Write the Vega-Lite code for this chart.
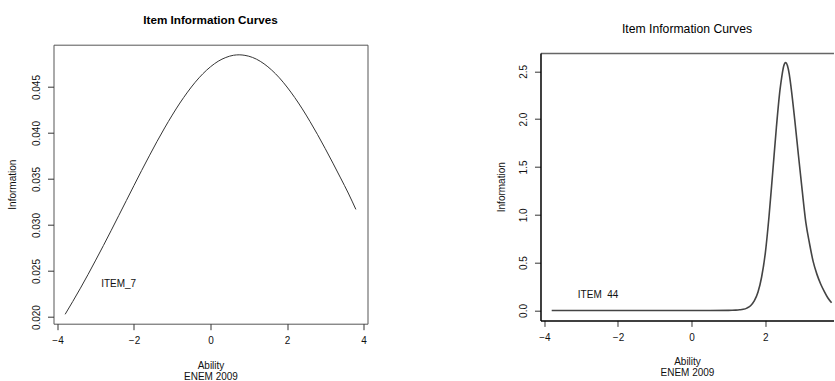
{
  "$schema": "https://vega.github.io/schema/vega-lite/v6.json",
  "padding": {"left": 6.5, "top": 13.7, "right": 0, "bottom": 0},
  "background": "white",
  "spacing": 128,
  "config": {
    "font": "Liberation Sans",
    "axis": {
      "labelFont": "Liberation Sans", "labelFontSize": 10, "labelColor": "#111",
      "titleFont": "Liberation Sans", "titleFontSize": 10, "titleFontWeight": "normal", "titleColor": "#111",
      "tickColor": "#333", "tickSize": 6, "labelFlush": false, "labelOverlap": false, "grid": false
    },
    "title": {"font": "Liberation Sans", "fontSize": 11.7, "fontWeight": "bold", "color": "#000"}
  },
  "datasets": {
    "left": [
      {"ability": -3.8, "info": 0.02030}, {"ability": -3.6, "info": 0.02170}, {"ability": -3.4, "info": 0.02314},
      {"ability": -3.2, "info": 0.02464}, {"ability": -3.0, "info": 0.02619}, {"ability": -2.8, "info": 0.02777},
      {"ability": -2.6, "info": 0.02938}, {"ability": -2.4, "info": 0.03102}, {"ability": -2.2, "info": 0.03266},
      {"ability": -2.0, "info": 0.03430}, {"ability": -1.8, "info": 0.03593}, {"ability": -1.6, "info": 0.03752},
      {"ability": -1.4, "info": 0.03907}, {"ability": -1.2, "info": 0.04055}, {"ability": -1.0, "info": 0.04195},
      {"ability": -0.8, "info": 0.04326}, {"ability": -0.6, "info": 0.04445}, {"ability": -0.4, "info": 0.04552},
      {"ability": -0.2, "info": 0.04644}, {"ability": 0.0, "info": 0.04720}, {"ability": 0.2, "info": 0.04780},
      {"ability": 0.4, "info": 0.04821}, {"ability": 0.6, "info": 0.04845}, {"ability": 0.75, "info": 0.04850},
      {"ability": 0.9, "info": 0.04844}, {"ability": 1.0, "info": 0.04835}, {"ability": 1.2, "info": 0.04803},
      {"ability": 1.4, "info": 0.04752}, {"ability": 1.6, "info": 0.04684}, {"ability": 1.8, "info": 0.04600},
      {"ability": 2.0, "info": 0.04500}, {"ability": 2.2, "info": 0.04387}, {"ability": 2.4, "info": 0.04262},
      {"ability": 2.6, "info": 0.04126}, {"ability": 2.8, "info": 0.03982}, {"ability": 3.0, "info": 0.03830},
      {"ability": 3.2, "info": 0.03673}, {"ability": 3.4, "info": 0.03512}, {"ability": 3.6, "info": 0.03348},
      {"ability": 3.8, "info": 0.03170}
    ],
    "right": [
      {"ability": -3.8, "info": 0.0}, {"ability": -3.0, "info": 0.0}, {"ability": -2.0, "info": 0.0},
      {"ability": -1.0, "info": 0.0}, {"ability": 0.0, "info": 0.0}, {"ability": 0.5, "info": 0.0002},
      {"ability": 1.0, "info": 0.001}, {"ability": 1.1, "info": 0.002}, {"ability": 1.2, "info": 0.004},
      {"ability": 1.3, "info": 0.007}, {"ability": 1.4, "info": 0.012}, {"ability": 1.5, "info": 0.025},
      {"ability": 1.6, "info": 0.05}, {"ability": 1.7, "info": 0.10}, {"ability": 1.8, "info": 0.19},
      {"ability": 1.9, "info": 0.35}, {"ability": 2.0, "info": 0.60}, {"ability": 2.1, "info": 0.98},
      {"ability": 2.2, "info": 1.44}, {"ability": 2.3, "info": 1.91}, {"ability": 2.4, "info": 2.31},
      {"ability": 2.45, "info": 2.45}, {"ability": 2.5, "info": 2.555}, {"ability": 2.55, "info": 2.59},
      {"ability": 2.6, "info": 2.56}, {"ability": 2.65, "info": 2.47}, {"ability": 2.7, "info": 2.33},
      {"ability": 2.8, "info": 1.99}, {"ability": 2.9, "info": 1.62}, {"ability": 3.0, "info": 1.26},
      {"ability": 3.1, "info": 0.92}, {"ability": 3.2, "info": 0.70}, {"ability": 3.3, "info": 0.51},
      {"ability": 3.4, "info": 0.38}, {"ability": 3.5, "info": 0.28}, {"ability": 3.6, "info": 0.20},
      {"ability": 3.7, "info": 0.13}, {"ability": 3.8, "info": 0.08}
    ],
    "leftLabel": [{"ability": -2.4, "info": 0.02356, "label": "ITEM_7"}],
    "rightLabel": [{"ability": -2.54, "info": 0.157, "label": "ITEM\u00a0\u00a044"}]
  },
  "hconcat": [
    {
      "width": 314,
      "height": 279,
      "title": {"text": "Item Information Curves", "offset": 18.3},
      "view": {"stroke": "#555", "strokeWidth": 1},
      "layer": [
        {
          "data": {"name": "left"},
          "mark": {"type": "line", "color": "#333", "strokeWidth": 1, "interpolate": "monotone"},
          "encoding": {
            "x": {"field": "ability", "type": "quantitative",
                  "scale": {"domain": [-4.104, 4.104], "nice": false, "zero": false},
                  "axis": {"values": [-4, -2, 0, 2, 4], "domain": false, "labelPadding": 6, "title": ["Ability", "ENEM 2009"], "titlePadding": 15, "titleLineHeight": 11.2}},
            "y": {"field": "info", "type": "quantitative",
                  "scale": {"domain": [0.01928, 0.0496], "nice": false, "zero": false},
                  "axis": {"values": [0.02, 0.025, 0.03, 0.035, 0.04, 0.045], "format": ".3f", "domain": false, "labelAngle": -90, "labelPadding": 6, "title": "Information", "titlePadding": 14.5}}
          }
        },
        {
          "data": {"name": "leftLabel"},
          "mark": {"type": "text", "fontSize": 10, "color": "#111", "align": "center", "baseline": "middle"},
          "encoding": {
            "x": {"field": "ability", "type": "quantitative"},
            "y": {"field": "info", "type": "quantitative"},
            "text": {"field": "label"}
          }
        }
      ]
    },
    {
      "width": 293,
      "height": 275.7,
      "title": {"text": "Item Information Curves", "offset": 9.9, "fontWeight": "normal", "fontSize": 12.2},
      "view": {"stroke": null},
      "layer": [
        {
          "data": {"name": "right"},
          "mark": {"type": "line", "color": "#444", "strokeWidth": 1.6, "interpolate": "monotone"},
          "encoding": {
            "x": {"field": "ability", "type": "quantitative",
                  "scale": {"domain": [-4.104, 3.851], "nice": false, "zero": false},
                  "axis": {"values": [-4, -2, 0, 2, 4], "domain": true, "domainColor": "#000", "domainWidth": 1.5, "labelPadding": 6, "title": ["Ability", "ENEM 2009"], "titlePadding": 14, "titleLineHeight": 10.7}},
            "y": {"field": "info", "type": "quantitative",
                  "scale": {"domain": [-0.1035, 2.69], "range": [275.7, 8.4], "nice": false, "zero": false},
                  "axis": {"values": [0, 0.5, 1, 1.5, 2, 2.5], "format": ".1f", "domain": true, "domainColor": "#000", "domainWidth": 1.5, "labelAngle": -90, "labelPadding": 6, "title": "Information", "titlePadding": 12}}
          }
        },
        {
          "data": {"name": "rightLabel"},
          "mark": {"type": "text", "fontSize": 10, "color": "#111", "align": "center", "baseline": "middle"},
          "encoding": {
            "x": {"field": "ability", "type": "quantitative",
                  "axis": {"orient": "top", "offset": -8.4, "labels": false, "ticks": false, "title": null, "domain": true, "domainColor": "#666", "domainWidth": 1.5}},
            "y": {"field": "info", "type": "quantitative"},
            "text": {"field": "label"}
          }
        }
      ],
      "resolve": {"axis": {"x": "independent"}}
    }
  ]
}
